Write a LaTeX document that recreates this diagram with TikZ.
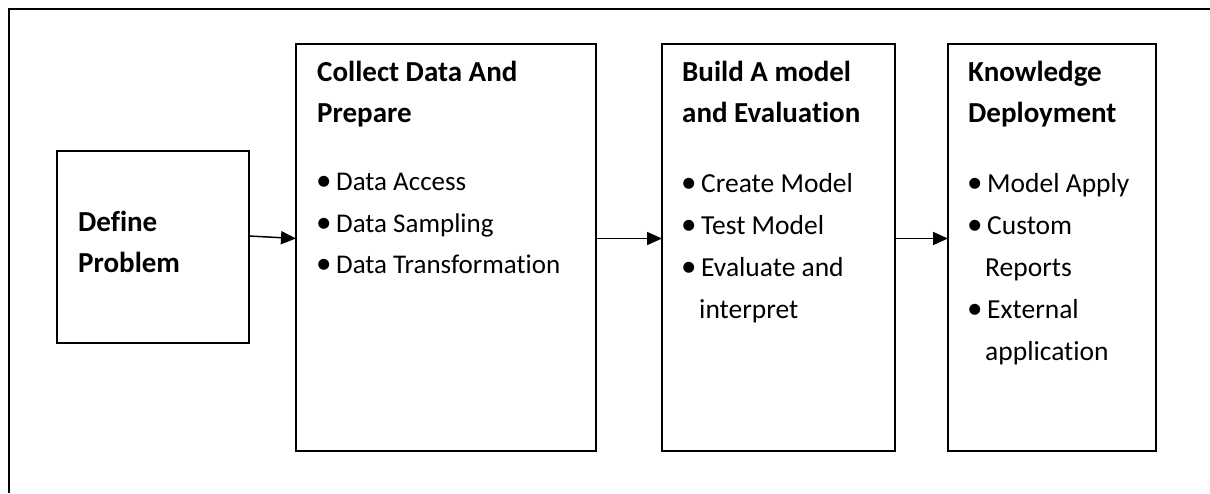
\documentclass[tikz,border=0pt]{standalone}
\usepackage{fontspec}
\setmainfont{Carlito}[Ligatures=CommonOff]
\usepackage{tikz}
\usetikzlibrary{positioning,arrows.meta}

\tikzset{
  box/.style={draw, line width=2pt, outer sep=0pt, inner sep=0pt},
  ttl/.style={anchor=base west, align=left, inner sep=0pt, font=\bfseries\fontsize{29}{41}\selectfont},
  lst/.style={anchor=base west, align=left, inner sep=0pt, font=\fontsize{27.5}{42}\selectfont},
  arr/.style={-{Triangle[length=15pt,width=13pt]}, line width=1.5pt}
}
\newcommand{\itm}{\makebox[20pt][l]{{\fontsize{31}{31}\selectfont\textbullet}}}
\newcommand{\cnt}{\hspace*{18pt}}

\begin{document}
\begin{tikzpicture}[x=1pt, y=-1pt]
    \useasboundingbox (0,0) rectangle (1210,493);
    % Outer frame (cut at right and bottom)
    \draw[line width=2.5pt] (9,493) -- (9,9) -- (1212,9);

    % Boxes
    \node[box, minimum width=192pt, minimum height=192pt] (def) at (153,247) {};
    \node[box, minimum width=300pt, minimum height=407pt, right=47pt of def] (col) {};
    \node[box, minimum width=233pt, minimum height=407pt, right=66pt of col] (bld) {};
    \node[box, minimum width=208pt, minimum height=407pt, right=53pt of bld] (knw) {};

    % Texts (base = baseline of the last line)
    \node[ttl] (defT) at ([xshift=21pt, yshift=-121pt]def.north west) {Define\\Problem};

    \node[ttl] (colT) at ([xshift=21pt, yshift=-79pt]col.north west) {Collect Data And\\Prepare};
    \node[lst, font=\fontsize{27}{41.5}\selectfont] (colL) at ([xshift=20pt, yshift=-230pt]col.north west)
        {\itm Data Access\\\itm Data Sampling\\\itm Data Transformation};

    \node[ttl] (bldT) at ([xshift=20pt, yshift=-79pt]bld.north west) {Build A model\\and Evaluation};
    \node[lst] (bldL) at ([xshift=19pt, yshift=-275pt]bld.north west)
        {\itm Create Model\\\itm Test Model\\\itm Evaluate and\\\cnt interpret};

    \node[ttl] (knwT) at ([xshift=20pt, yshift=-79pt]knw.north west) {Knowledge\\Deployment};
    \node[lst] (knwL) at ([xshift=19pt, yshift=-317pt]knw.north west)
        {\itm Model Apply\\\itm Custom\\\cnt Reports\\\itm External\\\cnt application};

    % Arrows
    \draw[arr] ([yshift=11pt]def.east) -- ([yshift=8.5pt]col.west);
    \draw[arr] ([yshift=8.5pt]col.east) -- ([yshift=8.5pt]bld.west);
    \draw[arr] ([yshift=8.5pt]bld.east) -- ([yshift=8.5pt]knw.west);
\end{tikzpicture}
\end{document}
